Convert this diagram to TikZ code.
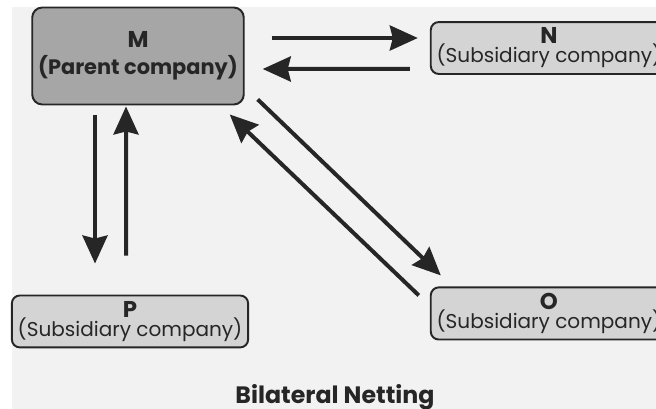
\documentclass[tikz,border=0pt]{standalone}
\usepackage{fontspec}
\setmainfont{Poppins}
\usetikzlibrary{arrows.meta}

\definecolor{paper}{HTML}{F2F2F2}
\definecolor{parentfill}{HTML}{A6A6A6}
\definecolor{subfill}{HTML}{D4D4D4}
\definecolor{ink}{HTML}{262626}

\newcommand{\firm}[1]{{\fontsize{13}{10.6}\selectfont\bfseries #1}}

\begin{document}
\begin{tikzpicture}[x=0.02cm, y=-0.02cm, >={Stealth[length=0.56cm, width=0.5cm, inset=0.06cm]},
    parent/.style={draw=ink, line width=1.1pt, fill=parentfill, rounded corners=0.2cm,
        minimum width=4.12cm, minimum height=1.94cm, align=center,
        font=\fontsize{11.9}{15.6}\selectfont\bfseries, text=ink},
    subsidiary/.style={draw=ink, line width=1.1pt, fill=subfill, rounded corners=0.16cm,
        minimum width=4.68cm, minimum height=1.02cm, align=center,
        font=\fontsize{11.4}{10.8}\selectfont, text=ink},
    flow/.style={->, draw=ink, line width=0.08cm}]

    \useasboundingbox (0,0) rectangle (656,409);
    \clip (0,0) rectangle (656,409);
    \fill[paper] (12,7) rectangle (656,409);

    % Nodes
    \node (M) [parent] at (138,56) {\fontsize{13}{15.6}\selectfont M\\(Parent company)};
    \node (N) [subsidiary, right of=M, node distance=8.22cm, yshift=0.16cm] {\firm{N}\\(Subsidiary company)};
    \node (P) [subsidiary, below of=M, node distance=5.31cm, xshift=-0.16cm] {\firm{P}\\(Subsidiary company)};
    \node (O) [subsidiary, below of=N, node distance=5.31cm] {\firm{O}\\(Subsidiary company)};
    \node (title) [anchor=base, text=ink, font=\fontsize{13.5}{16}\selectfont\bfseries] at (335,403) {Bilateral Netting};

    % Arrows
    \draw[flow] ([xshift=0.54cm, yshift=0.36cm]M.east) -- ([xshift=-0.24cm, yshift=0.2cm]N.west);
    \draw[flow] ([xshift=-0.4cm, yshift=-0.42cm]N.west) -- ([xshift=0.36cm, yshift=-0.26cm]M.east);
    \draw[flow] ([xshift=-0.86cm, yshift=-0.2cm]M.south) -- ([xshift=-0.7cm, yshift=0.62cm]P.north);
    \draw[flow] ([xshift=-0.08cm, yshift=0.78cm]P.north) -- ([xshift=-0.24cm, yshift=-0.02cm]M.south);
    \draw[flow] ([xshift=0.26cm, yshift=0.12cm]M.south east) -- ([xshift=0.22cm, yshift=0.22cm]O.north west);
    \draw[flow] ([xshift=-0.22cm, yshift=-0.18cm]O.north west) -- ([xshift=-0.3cm, yshift=-0.18cm]M.south east);
\end{tikzpicture}
\end{document}
